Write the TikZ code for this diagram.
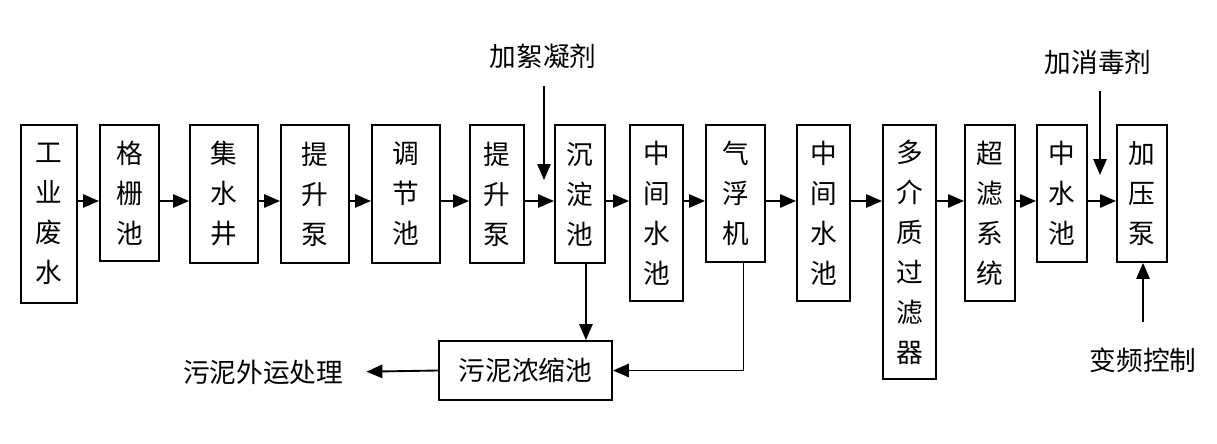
\documentclass[tikz,border=0pt]{standalone}
\usepackage{fontspec}
\setmainfont{Noto Sans CJK SC}
\usetikzlibrary{arrows.meta, positioning, calc}

\begin{document}
\begin{tikzpicture}[x=0.75pt, y=-0.75pt,
  unit/.style={draw, line width=1.4pt, anchor=north west, align=center, inner sep=0pt,
    font=\fontsize{20}{30}\selectfont},
  tag/.style={font=\fontsize{20}{24}\selectfont},
  flow/.style={line width=1.4pt, -{Triangle[length=12pt,width=10pt]}}]
\useasboundingbox (0,0) rectangle (1217,443);
\coordinate (mid) at (0,201);
% main treatment line
\foreach \n/\x/\w/\h/\txt in {
    a1/20/56/178/工\\业\\废\\水,
    a2/99/59/136/格\\栅\\池,
    a3/189/68/138/集\\水\\井,
    a4/280/68/138/提\\升\\泵,
    a5/371/68/138/调\\节\\池,
    a6/469/54/138/提\\升\\泵,
    a7/554/50/138/沉\\淀\\池,
    a8/629/53/176/中\\间\\水\\池,
    a9/705/59/137/气\\浮\\机,
    a10/796/53/176/中\\间\\水\\池,
    a11/882/53/254/多\\介\\质\\过\\滤\\器,
    a12/964/50/176/超\\滤\\系\\统,
    a13/1036/50/137/中\\水\\池,
    a14/1116/50/137/加\\压\\泵
} {
    \node[unit, minimum width=\w*0.75pt, minimum height=\h*0.75pt] (\n) at (\x,124) {\txt};
}
\foreach \a/\b in {a1/a2, a2/a3, a3/a4, a4/a5, a5/a6, a6/a7, a7/a8,
    a8/a9, a9/a10, a10/a11, a11/a12, a12/a13, a13/a14} {
    \draw[flow] (\a.east |- mid) -- (\b.west |- mid);
}
% sludge line
\node[unit, anchor=center, minimum width=173*0.75pt, minimum height=59*0.75pt] (sludge) at (525.5,370.5) {污泥浓缩池};
\node[tag] (haul) at (263,372) {污泥外运处理};
\draw[flow] ([xshift=4.5pt]a7.south) -- ([xshift=4.5pt]a7.south |- sludge.north);
\draw[flow] ([xshift=6pt]a9.south) |- (sludge.east);
\draw[flow, shorten >=14pt] (sludge.west) -- (haul.east);
% dosing and control
\node[tag] (floc) at (543,56) {加絮凝剂};
\coordinate (flocin) at (544,180);
\draw[flow, shorten <=10pt] (floc.south -| flocin) -- (flocin);
\node[tag] (disinf) at (1098,62) {加消毒剂};
\coordinate (disin) at (1100,175);
\draw[flow, shorten <=9pt] (disinf.south -| disin) -- (disin);
\node[tag] (vfd) at (1143,360) {变频控制};
\draw[flow, shorten <=16pt] (vfd.north) -- (vfd.north |- a14.south);
\end{tikzpicture}
\end{document}
